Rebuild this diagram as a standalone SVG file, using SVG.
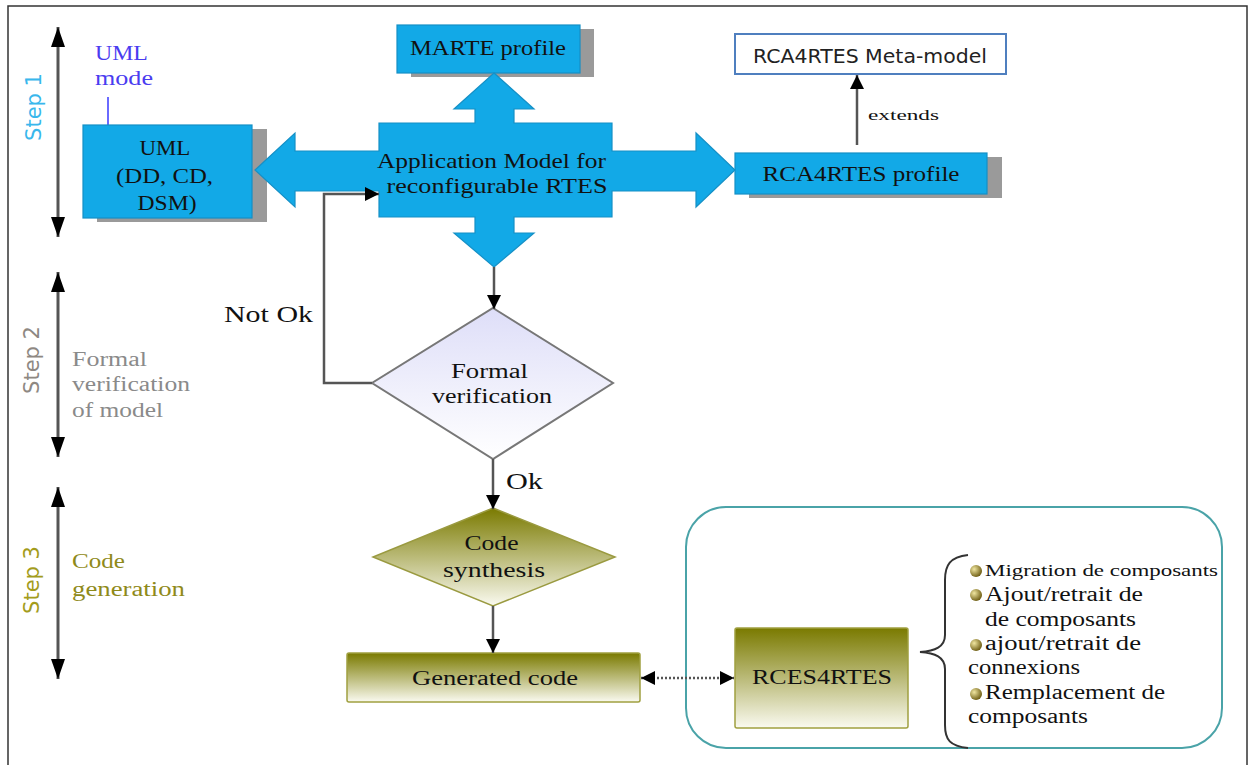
<svg xmlns="http://www.w3.org/2000/svg" width="1253" height="765" viewBox="0 0 1253 765">
  <style>
    .serif { font-family: "Liberation Serif", "Times New Roman", serif; fill: #111; }
    .sans { font-family: "DejaVu Sans", "Liberation Sans", sans-serif; }
    .blue { fill: #12a9e7; stroke: #1590c6; stroke-width: 1.2; }
    .shadow { fill: #9a9a9a; }
    .conn { fill: none; stroke: #555; stroke-width: 2.5; }
    .step { fill: none; stroke: #555; stroke-width: 3; }
    .mid { text-anchor: middle; }
  </style>
  <defs>
    <marker id="arr" markerUnits="userSpaceOnUse" markerWidth="14" markerHeight="14" refX="14" refY="7" orient="auto-start-reverse">
      <path d="M0,0 L14,7 L0,14 z" fill="#000"/>
    </marker>
    <marker id="stepArr" markerUnits="userSpaceOnUse" markerWidth="20" markerHeight="14" refX="20" refY="7" orient="auto-start-reverse">
      <path d="M0,0 L20,7 L0,14 z" fill="#000"/>
    </marker>
    <linearGradient id="olive" x1="0" y1="0" x2="0" y2="1">
      <stop offset="0" stop-color="#7a7a00"/>
      <stop offset="1" stop-color="#fafaf0"/>
    </linearGradient>
    <linearGradient id="lavender" x1="0" y1="0" x2="0" y2="1">
      <stop offset="0" stop-color="#dedef8"/>
      <stop offset="1" stop-color="#ffffff"/>
    </linearGradient>
    <radialGradient id="bullet" cx="0.35" cy="0.35" r="0.7">
      <stop offset="0" stop-color="#f0e6a0"/>
      <stop offset="1" stop-color="#6b5a10"/>
    </radialGradient>
  </defs>

  <rect width="1253" height="765" fill="#fff"/>
  <!-- outer frame -->
  <rect x="8" y="6" width="1239" height="770" fill="none" stroke="#333" stroke-width="1.5"/>

  <!-- step lanes -->
  <g id="step1">
    <line x1="58" y1="27" x2="58" y2="237" class="step" marker-start="url(#stepArr)" marker-end="url(#stepArr)"/>
    <text class="sans mid" x="0" y="0" font-size="21" fill="#39b7ec" transform="translate(41,107) rotate(-90)">Step 1</text>
  </g>
  <g id="step2">
    <line x1="58" y1="272" x2="58" y2="457" class="step" marker-start="url(#stepArr)" marker-end="url(#stepArr)"/>
    <text class="sans mid" x="0" y="0" font-size="21" fill="#8e8882" transform="translate(39,360) rotate(-90)">Step 2</text>
    <text class="serif" font-size="20" style="fill:#8a8a8a">
      <tspan x="72" y="366" textLength="75" lengthAdjust="spacingAndGlyphs">Formal</tspan>
      <tspan x="72" y="391" textLength="118" lengthAdjust="spacingAndGlyphs">verification</tspan>
      <tspan x="72" y="417" textLength="91" lengthAdjust="spacingAndGlyphs">of model</tspan>
    </text>
  </g>
  <g id="step3">
    <line x1="58" y1="487" x2="58" y2="679" class="step" marker-start="url(#stepArr)" marker-end="url(#stepArr)"/>
    <text class="sans mid" x="0" y="0" font-size="21" fill="#a39c1c" transform="translate(39,580) rotate(-90)">Step 3</text>
    <text class="serif" font-size="20" style="fill:#8f8a1a">
      <tspan x="72" y="568" textLength="53" lengthAdjust="spacingAndGlyphs">Code</tspan>
      <tspan x="72" y="596" textLength="113" lengthAdjust="spacingAndGlyphs">generation</tspan>
    </text>
  </g>

  <!-- UML node with its mode label -->
  <g id="uml">
    <text class="serif" font-size="20" style="fill:#4a3cf0">
      <tspan x="95" y="60" textLength="52" lengthAdjust="spacingAndGlyphs">UML</tspan>
      <tspan x="95" y="85" textLength="58" lengthAdjust="spacingAndGlyphs">mode</tspan>
    </text>
    <line x1="108" y1="97" x2="108" y2="125" stroke="#6a6aff" stroke-width="2"/>
    <rect x="97" y="129" width="170" height="93" class="shadow"/>
    <rect x="83" y="125" width="169" height="93" class="blue"/>
    <text class="serif mid" font-size="20">
      <tspan x="167" y="155" textLength="50" lengthAdjust="spacingAndGlyphs">UML</tspan>
      <tspan x="167" y="183" textLength="97" lengthAdjust="spacingAndGlyphs">(DD, CD,</tspan>
      <tspan x="167" y="210" textLength="59" lengthAdjust="spacingAndGlyphs">DSM)</tspan>
    </text>
  </g>

  <g id="marte">
    <rect x="411" y="29" width="183" height="48" class="shadow"/>
    <rect x="397" y="25" width="183" height="48" class="blue"/>
    <text class="serif mid" x="488" y="55" font-size="21" textLength="156" lengthAdjust="spacingAndGlyphs">MARTE profile</text>
  </g>

  <!-- application model: body with four block arrows -->
  <g id="app-model">
    <polygon class="blue" points="494,73 534,109 514,109 514,123 612,123 612,151 696,151 696,133 735,170 696,207 696,191 612,191 612,217 514,217 514,233 534,233 494,267 454,233 475,233 475,217 379,217 379,191 295,191 295,207 255,170 295,133 295,151 379,151 379,123 475,123 475,109 454,109"/>
    <text class="serif mid" font-size="21">
      <tspan x="494" y="168" textLength="229" lengthAdjust="spacingAndGlyphs">Application Model for</tspan>
      <tspan x="497" y="193" textLength="221" lengthAdjust="spacingAndGlyphs">reconfigurable RTES</tspan>
    </text>
  </g>

  <g id="rca-profile">
    <rect x="749" y="157" width="253" height="41" class="shadow"/>
    <rect x="735" y="153" width="252" height="41" class="blue"/>
    <text class="serif mid" x="861" y="181" font-size="21" textLength="197" lengthAdjust="spacingAndGlyphs">RCA4RTES profile</text>
  </g>

  <g id="rca-metamodel">
    <rect x="735" y="34" width="271" height="40" fill="#fff" stroke="#4f7fbf" stroke-width="2"/>
    <text class="sans mid" x="870" y="63" font-size="20" fill="#222" textLength="234" lengthAdjust="spacingAndGlyphs">RCA4RTES Meta-model</text>
  </g>

  <g id="formal-verification">
    <polygon points="493,308 613,383 493,459 372,383" fill="url(#lavender)" stroke="#777" stroke-width="2"/>
    <text class="serif mid" font-size="20">
      <tspan x="492" y="378" textLength="77" lengthAdjust="spacingAndGlyphs">Formal</tspan>
      <tspan x="492" y="403" textLength="120" lengthAdjust="spacingAndGlyphs">verification</tspan>
    </text>
  </g>

  <g id="code-synthesis">
    <polygon points="493,508 615,557 493,606 373,557" fill="url(#olive)" stroke="#9a9a40" stroke-width="1.5"/>
    <text class="serif mid" font-size="20">
      <tspan x="494" y="550" textLength="54" lengthAdjust="spacingAndGlyphs">Code</tspan>
      <tspan x="494" y="577" textLength="102" lengthAdjust="spacingAndGlyphs">synthesis</tspan>
    </text>
  </g>

  <g id="generated-code">
    <rect x="347" y="653" width="293" height="49" rx="2" fill="url(#olive)" stroke="#a0a040" stroke-width="1.5"/>
    <text class="serif mid" x="495" y="685" font-size="20" textLength="166" lengthAdjust="spacingAndGlyphs">Generated code</text>
  </g>

  <!-- reconfiguration services container -->
  <g id="rces-group">
    <rect x="686" y="507" width="536" height="241" rx="40" fill="none" stroke="#4aa3a8" stroke-width="2"/>
    <g id="rces4rtes">
      <rect x="735" y="628" width="173" height="100" rx="2" fill="url(#olive)" stroke="#a0a040" stroke-width="1.5"/>
      <text class="serif mid" x="822" y="684" font-size="21" textLength="140" lengthAdjust="spacingAndGlyphs">RCES4RTES</text>
    </g>
    <path d="M968,555 C950,557 945,565 945,580 L945,635 C945,647 935,651 920,652 C935,653 945,657 945,669 L945,725 C945,740 950,746 968,748" fill="none" stroke="#333" stroke-width="2"/>
    <g id="operations">
      <circle cx="976" cy="571" r="6" fill="url(#bullet)"/>
      <circle cx="976" cy="595" r="6" fill="url(#bullet)"/>
      <circle cx="976" cy="645" r="6" fill="url(#bullet)"/>
      <circle cx="976" cy="694" r="6" fill="url(#bullet)"/>
      <text class="serif" font-size="16" x="985" y="576" textLength="233" lengthAdjust="spacingAndGlyphs">Migration de composants</text>
      <text class="serif" font-size="20">
        <tspan x="985" y="601" textLength="158" lengthAdjust="spacingAndGlyphs">Ajout/retrait de</tspan>
        <tspan x="985" y="626" textLength="151" lengthAdjust="spacingAndGlyphs">de composants</tspan>
        <tspan x="985" y="650" textLength="156" lengthAdjust="spacingAndGlyphs">ajout/retrait de</tspan>
        <tspan x="968" y="674" textLength="112" lengthAdjust="spacingAndGlyphs">connexions</tspan>
        <tspan x="985" y="699" textLength="180" lengthAdjust="spacingAndGlyphs">Remplacement de</tspan>
        <tspan x="968" y="723" textLength="120" lengthAdjust="spacingAndGlyphs">composants</tspan>
      </text>
    </g>
  </g>

  <!-- connectors -->
  <g id="connectors">
    <line x1="857" y1="145" x2="857" y2="75" class="conn" marker-end="url(#arr)"/>
    <text class="serif" x="868" y="120" font-size="15" textLength="71" lengthAdjust="spacingAndGlyphs">extends</text>
    <line x1="494" y1="267" x2="494" y2="309" class="conn" marker-end="url(#arr)"/>
    <polyline points="372,383 324,383 324,194 379,194" class="conn" marker-end="url(#arr)"/>
    <text class="serif" x="224" y="322" font-size="23" textLength="89" lengthAdjust="spacingAndGlyphs">Not Ok</text>
    <line x1="493" y1="459" x2="493" y2="509" class="conn" marker-end="url(#arr)"/>
    <text class="serif" x="506" y="489" font-size="23" textLength="37" lengthAdjust="spacingAndGlyphs">Ok</text>
    <line x1="493" y1="606" x2="493" y2="653" class="conn" marker-end="url(#arr)"/>
    <line x1="641" y1="678" x2="734" y2="678" fill="none" stroke="#555" stroke-width="2.5" stroke-dasharray="2,2" marker-start="url(#arr)" marker-end="url(#arr)"/>
  </g>
</svg>
